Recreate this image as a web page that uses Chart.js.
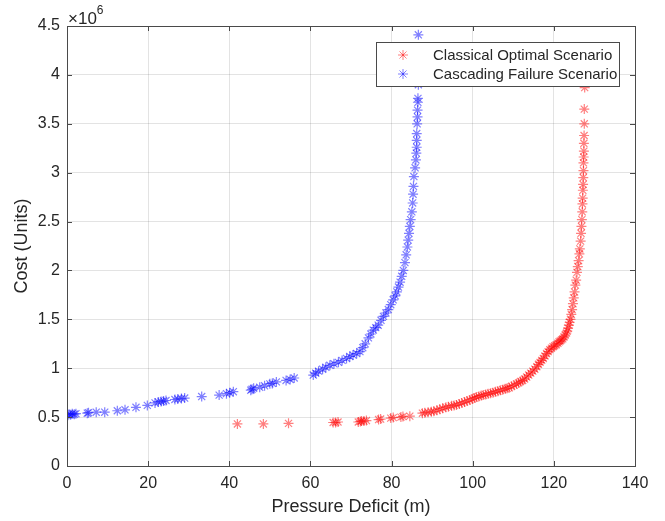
<!DOCTYPE html>
<html>
<head>
<meta charset="utf-8">
<script src="https://cdn.jsdelivr.net/npm/chart.js@4/dist/chart.umd.min.js"></script>
<style>
  html, body { margin: 0; padding: 0; background: #fff; }
  #wrap { width: 665px; height: 521px; }
</style>
</head>
<body>
<div id="wrap"><canvas id="chart" width="665" height="521"></canvas></div>
<script>
// Classical optimal scenario: pressure deficit (m) vs cost (x10^6 units)
const classicalDeficit = [
  42, 48.4, 54.6, 65.6, 66.2, 66.8, 71.8, 72.3, 72.6, 73.2,
  73.8, 76.8, 77.3, 79.8, 80.4, 82.3, 82.8, 84.5, 87.6, 88.2,
  89, 89.8, 90.4, 91.2, 91.9, 92.6, 93.4, 94, 94.8, 95.4,
  96, 96.7, 97.3, 98, 98.6, 99.3, 99.9, 100.4, 100.9, 101.5,
  102.1, 102.6, 103.2, 103.8, 104.4, 105, 105.6, 106.2, 106.8, 107.4,
  108, 108.5, 109, 109.6, 110.2, 110.8, 111.3, 111.8, 112.3, 112.8,
  113.3, 113.8, 114.3, 114.8, 115.3, 115.8, 116.2, 116.6, 117, 117.4,
  117.8, 118.2, 118.6, 119, 119.4, 119.8, 120.2, 120.6, 121, 121.3,
  121.6, 121.9, 122.2, 122.5, 122.8, 123.1, 123.3, 123.5, 123.7, 123.9,
  124.1, 124.3, 124.5, 124.7, 124.9, 125.1, 125.3, 125.5, 125.7, 125.9,
  126.1, 126.3, 126.4, 126.6, 126.7, 126.8, 126.9, 127, 127.05, 127.1,
  127.15, 127.2, 127.25, 127.3, 127.3, 127.35, 127.4, 127.4, 127.45, 127.5,
  127.5, 127.6
];
const classicalCost = [
  0.43, 0.43, 0.436, 0.445, 0.445, 0.45, 0.45, 0.455, 0.46, 0.46,
  0.465, 0.475, 0.48, 0.49, 0.495, 0.50, 0.505, 0.51, 0.54, 0.545,
  0.55, 0.555, 0.56, 0.57, 0.58, 0.59, 0.60, 0.605, 0.615, 0.62,
  0.625, 0.635, 0.645, 0.655, 0.665, 0.675, 0.685, 0.695, 0.705, 0.71,
  0.72, 0.725, 0.73, 0.74, 0.745, 0.75, 0.76, 0.765, 0.775, 0.78,
  0.79, 0.795, 0.80, 0.815, 0.825, 0.84, 0.85, 0.865, 0.875, 0.89,
  0.91, 0.93, 0.95, 0.97, 0.99, 1.015, 1.04, 1.06, 1.08, 1.10,
  1.125, 1.15, 1.17, 1.19, 1.205, 1.22, 1.23, 1.24, 1.255, 1.27,
  1.28, 1.29, 1.30, 1.32, 1.34, 1.36, 1.38, 1.41, 1.44, 1.47,
  1.50, 1.55, 1.60, 1.66, 1.72, 1.78, 1.85, 1.90, 1.98, 2.04,
  2.10, 2.17, 2.22, 2.30, 2.38, 2.45, 2.52, 2.60, 2.68, 2.74,
  2.82, 2.88, 2.95, 3.02, 3.10, 3.16, 3.22, 3.30, 3.38, 3.50,
  3.65, 3.87
];

// Cascading failure scenario
const cascadingDeficit = [
  0.2, 0.5, 0.9, 1.3, 1.8, 2.2, 5.0, 5.3, 7.2, 9.3,
  12.4, 14.3, 17, 19.8, 21.7, 22.5, 23.2, 23.8, 24.4, 26.6,
  27.3, 28.2, 29, 33.2, 37.5, 39.3, 40.1, 41, 45.3, 45.6,
  46, 47.5, 48.7, 50, 50.6, 51.6, 54, 55, 56, 60.7,
  61.3, 62, 63, 63.8, 64.8, 65.8, 66.9, 67.8, 68.9, 69.7,
  70.5, 71.4, 72.2, 72.9, 73.5, 74.3, 74.9, 75.5, 76.1, 76.7,
  77.4, 78, 78.6, 79.2, 79.8, 80.4, 80.9, 81.3, 81.7, 82.1,
  82.5, 82.9, 83.3, 83.6, 83.9, 84.1, 84.3, 84.5, 84.7, 85,
  85.2, 85.3, 85.4, 85.5, 85.8, 86, 86.1, 86.2, 86.2, 86.2,
  86.3, 86.4, 86.4, 86.5, 86.5, 86.6, 86.6, 86.6, 86.6
];
const cascadingCost = [
  0.52, 0.53, 0.525, 0.535, 0.53, 0.535, 0.54, 0.545, 0.55, 0.55,
  0.565, 0.575, 0.60, 0.62, 0.645, 0.655, 0.66, 0.665, 0.67, 0.68,
  0.685, 0.69, 0.695, 0.71, 0.725, 0.74, 0.75, 0.76, 0.775, 0.785,
  0.795, 0.805, 0.82, 0.84, 0.845, 0.86, 0.875, 0.885, 0.90, 0.93,
  0.95, 0.97, 0.99, 1.01, 1.03, 1.045, 1.06, 1.08, 1.10, 1.12,
  1.135, 1.15, 1.17, 1.21, 1.25, 1.31, 1.35, 1.39, 1.415, 1.44,
  1.49, 1.53, 1.565, 1.60, 1.65, 1.70, 1.74, 1.78, 1.83, 1.88,
  1.94, 2.0, 2.08, 2.16, 2.24, 2.31, 2.38, 2.45, 2.52, 2.60,
  2.69, 2.78, 2.86, 2.96, 3.05, 3.13, 3.20, 3.26, 3.33, 3.40,
  3.50, 3.57, 3.64, 3.72, 3.76, 3.9, 4.05, 4.2, 4.41
];

const seriesNames = ['Classical Optimal Scenario', 'Cascading Failure Scenario'];
const seriesColors = ['rgba(255, 0, 0, 0.5)', 'rgba(0, 0, 255, 0.5)'];

const toPoints = (xs, ys) => xs.map((x, i) => ({ x: x, y: ys[i] }));
const plainNumber = v => String(Number(v.toFixed(2)));

const FONT = '"Liberation Sans", Arial, Helvetica, sans-serif';
const AXIS_COLOR = '#4a4a4a';
const TEXT_COLOR = '#262626';

// Box, inward ticks, exponent label and legend (MATLAB look)
const matlabAxes = {
  id: 'matlabAxes',
  afterDatasetsDraw(chart) {
    const { ctx, chartArea: a, scales } = chart;
    ctx.save();
    ctx.strokeStyle = AXIS_COLOR;
    ctx.lineWidth = 1;
    ctx.strokeRect(Math.round(a.left) + 0.5, Math.round(a.top) + 0.5,
      Math.round(a.right - a.left), Math.round(a.bottom - a.top));

    const tl = 5;
    ctx.beginPath();
    scales.x.ticks.forEach(t => {
      const px = Math.round(scales.x.getPixelForValue(t.value)) + 0.5;
      ctx.moveTo(px, a.bottom); ctx.lineTo(px, a.bottom - tl);
      ctx.moveTo(px, a.top); ctx.lineTo(px, a.top + tl);
    });
    scales.y.ticks.forEach(t => {
      const py = Math.round(scales.y.getPixelForValue(t.value)) + 0.5;
      ctx.moveTo(a.left, py); ctx.lineTo(a.left + tl, py);
      ctx.moveTo(a.right, py); ctx.lineTo(a.right - tl, py);
    });
    ctx.stroke();

    // x10^6 exponent
    ctx.fillStyle = TEXT_COLOR;
    ctx.textBaseline = 'alphabetic';
    ctx.textAlign = 'left';
    ctx.font = '17px ' + FONT;
    ctx.fillText('\u00d710', a.left + 1, a.top - 2);
    const w = ctx.measureText('\u00d710').width;
    ctx.font = '12px ' + FONT;
    ctx.fillText('6', a.left + 1 + w, a.top - 12);

    // legend
    const lx = 376, ly = 42, lw = 243, lh = 44;
    ctx.fillStyle = '#fff';
    ctx.fillRect(lx, ly, lw, lh);
    ctx.strokeStyle = AXIS_COLOR;
    ctx.strokeRect(lx + 0.5, ly + 0.5, lw, lh);
    ctx.font = '15px ' + FONT;
    ctx.textBaseline = 'middle';
    seriesNames.forEach((name, i) => {
      const cy = ly + 13 + i * 19;
      ctx.strokeStyle = seriesColors[i];
      Chart.helpers.drawPoint(ctx, { pointStyle: 'star', radius: 5, borderWidth: 1 }, 403, cy);
      ctx.fillStyle = TEXT_COLOR;
      ctx.fillText(name, 433, cy + 1);
    });
    ctx.restore();
  }
};

new Chart(document.getElementById('chart'), {
  type: 'scatter',
  data: {
    datasets: [
      {
        label: seriesNames[0],
        data: toPoints(classicalDeficit, classicalCost),
        pointStyle: 'star',
        pointRadius: 5,
        pointBorderWidth: 1.2,
        borderColor: seriesColors[0],
        backgroundColor: seriesColors[0]
      },
      {
        label: seriesNames[1],
        data: toPoints(cascadingDeficit, cascadingCost),
        pointStyle: 'star',
        pointRadius: 5,
        pointBorderWidth: 1.2,
        borderColor: seriesColors[1],
        backgroundColor: seriesColors[1]
      }
    ]
  },
  options: {
    responsive: false,
    animation: false,
    devicePixelRatio: 1,
    layout: { padding: { top: 26, right: 30, left: 0, bottom: 0 } },
    plugins: {
      legend: { display: false },
      tooltip: { enabled: false }
    },
    scales: {
      x: {
        type: 'linear',
        min: 0,
        max: 140,
        afterFit: s => { s.height = 55; },
        ticks: { stepSize: 20, padding: 8, color: TEXT_COLOR, font: { family: FONT, size: 16 }, callback: plainNumber },
        grid: { color: 'rgba(38,38,38,0.13)', drawTicks: false },
        border: { display: false },
        title: {
          display: true,
          text: 'Pressure Deficit (m)',
          color: TEXT_COLOR,
          font: { family: FONT, size: 18 },
          padding: { top: 0, bottom: 3 }
        }
      },
      y: {
        type: 'linear',
        min: 0,
        max: 4.5,
        afterFit: s => { s.width = 67; },
        ticks: { stepSize: 0.5, padding: 7, color: TEXT_COLOR, font: { family: FONT, size: 16 }, callback: plainNumber },
        grid: { color: 'rgba(38,38,38,0.13)', drawTicks: false },
        border: { display: false },
        title: {
          display: true,
          text: 'Cost (Units)',
          color: TEXT_COLOR,
          font: { family: FONT, size: 18 },
          padding: { top: 11, bottom: 0 }
        }
      }
    }
  },
  plugins: [matlabAxes]
});
</script>
</body>
</html>
